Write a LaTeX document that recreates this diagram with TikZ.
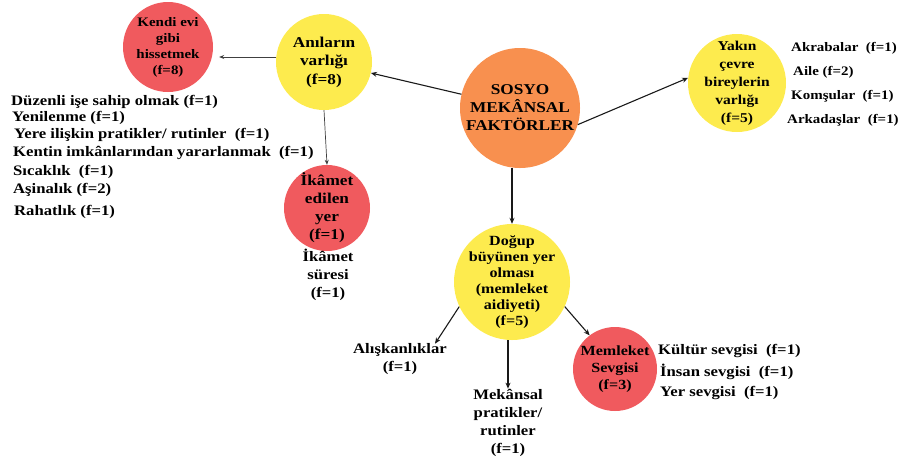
\documentclass[tikz,border=0pt]{standalone}
\usepackage{fontspec}
\setmainfont{Liberation Serif}[FakeStretch=1.15]
\usetikzlibrary{arrows.meta}
\definecolor{cred}{RGB}{240,90,94}
\definecolor{cyel}{RGB}{253,235,78}
\definecolor{corg}{RGB}{248,144,79}
\tikzset{
  bub/.style={circle, inner sep=-20pt, align=center, text=black, font=\bfseries},
  lst/.style={anchor=west, inner sep=0pt, font=\fontsize{14.5}{16}\selectfont\bfseries},
  rlst/.style={anchor=west, inner sep=0pt, font=\fontsize{13}{16}\selectfont\bfseries},
  lbl/.style={align=center, inner sep=0pt, font=\fontsize{14.5}{18}\selectfont\bfseries},
  arr/.style={line width=1.1pt, draw=black!90, -{Stealth[length=6pt,width=5pt]}},
  tarr/.style={line width=0.7pt, draw=black!75, -{Stealth[length=5pt,width=4pt]}}
}
\begin{document}
\begin{tikzpicture}[x=1pt,y=-1pt]
\useasboundingbox (0,0) rectangle (902,459);
% circles
\node[bub, fill=cred, minimum size=90pt, font=\fontsize{13}{16}\selectfont\bfseries] (kendi) at (168,47) {Kendi evi\\gibi\\hissetmek\\(f=8)};
\node[bub, fill=cyel, minimum size=96pt, font=\fontsize{15}{18.5}\selectfont\bfseries] (anyl) at (324,62) {Anıların\\varlığı\\(f=8)};
\node[bub, fill=corg, minimum size=120pt, font=\fontsize{15}{18}\selectfont\bfseries] (sosyo) at (520,108) {SOSYO\\MEKÂNSAL\\FAKTÖRLER};
\node[bub, fill=cyel, minimum size=98pt, font=\fontsize{13.5}{18}\selectfont\bfseries] (yakin) at (737,83) {Yakın\\çevre\\bireylerin\\varlığı\\(f=5)};
\node[bub, fill=cred, minimum size=86pt, font=\fontsize{15}{18}\selectfont\bfseries] (ikamet) at (327,208) {İkâmet\\edilen\\yer\\(f=1)};
\node[bub, fill=cyel, minimum size=116pt, font=\fontsize{14}{16}\selectfont\bfseries] (dogup) at (512,282) {Doğup\\büyünen yer\\olması\\(memleket\\aidiyeti)\\(f=5)};
\node[bub, fill=cred, minimum size=84pt, font=\fontsize{14}{17}\selectfont\bfseries] (memleket) at (615,369) {Memleket\\Sevgisi\\(f=3)};
% left list
\node[lst] (l1) at (11,102) {Düzenli işe sahip olmak (f=1)};
\node[lst] (l2) at (12,118) {Yenilenme (f=1)};
\node[lst] (l3) at (14,135) {Yere ilişkin pratikler/ rutinler~ (f=1)};
\node[lst] (l4) at (13,153) {Kentin imkânlarından yararlanmak~ (f=1)};
\node[lst] (l5) at (13,172) {Sıcaklık~ (f=1)};
\node[lst] (l6) at (13,190) {Aşinalık (f=2)};
\node[lst] (l7) at (14,212) {Rahatlık (f=1)};
% right list
\node[rlst] (r1) at (791,48) {Akrabalar~ (f=1)};
\node[rlst] (r2) at (793,72) {Aile (f=2)};
\node[rlst] (r3) at (791,96) {Komşular~ (f=1)};
\node[rlst] (r4) at (787,120) {Arkadaşlar~ (f=1)};
% memleket list
\node[lst] (m1) at (658,351) {Kültür sevgisi~ (f=1)};
\node[lst] (m2) at (660,372) {İnsan sevgisi~ (f=1)};
\node[lst] (m3) at (660,393) {Yer sevgisi~ (f=1)};
% other labels
\node[lbl] (sure) at (328,275) {İkâmet\\süresi\\(f=1)};
\node[lbl] (alis) at (400,359.5) {Alışkanlıklar\\(f=1)};
\node[lbl] (mek) at (508,422.5) {Mekânsal\\pratikler/\\rutinler\\(f=1)};
% connectors
\draw[tarr, shorten >=6pt] (anyl.west |- 0,57) -- (kendi.east |- 0,57);
\draw[arr] (sosyo) -- (anyl);
\draw[arr] (sosyo.-16) -- (yakin.174);
\draw[tarr] (anyl.south) -- (ikamet.north);
\draw[arr] (dogup.north |- sosyo.south) -- (dogup.north);
\draw[arr] (dogup.205) -- ([xshift=-12pt]alis.north east);
\draw[arr] (mek.north |- dogup.south) -- (mek.north);
\draw[arr] (dogup.-25) -- (memleket.127);
\end{tikzpicture}
\end{document}
